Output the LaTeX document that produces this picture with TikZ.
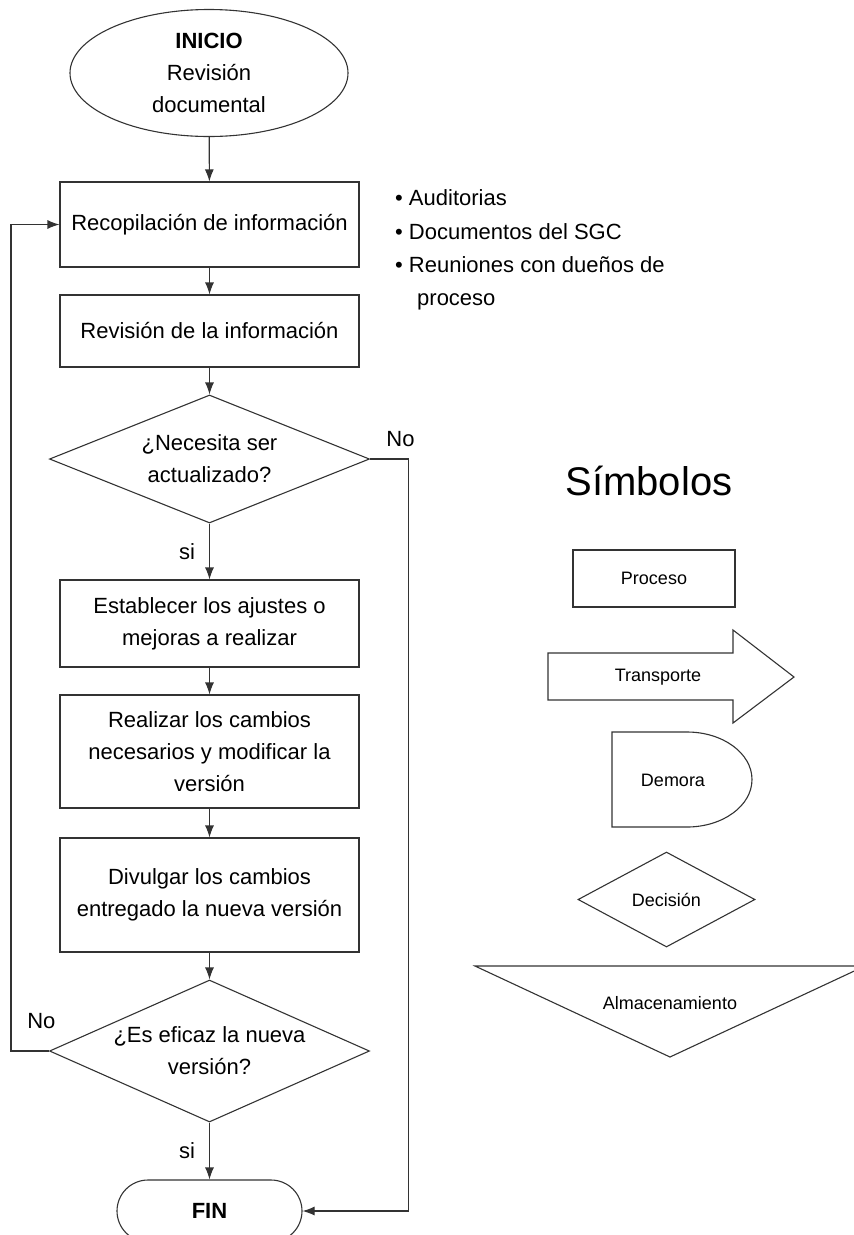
\documentclass[tikz,border=0pt]{standalone}
\usepackage{fontspec}
\setmainfont{Liberation Sans}
\usepackage{tikz}
\usetikzlibrary{shapes.geometric,arrows.meta,positioning}

\tikzset{
  caja/.style={draw=black!80, line width=1.1pt, font=\fontsize{22}{32}\selectfont, align=center, inner sep=0pt},
  proc/.style={caja, rectangle, minimum width=299pt},
  decis/.style={draw=black!80, line width=1.1pt, diamond, inner sep=0pt, minimum width=320pt},
  linea/.style={draw=black!80, line width=1.1pt},
  flecha/.style={linea, -{Latex[length=12pt,width=9pt]}},
  etiq/.style={font=\fontsize{22}{26}\selectfont, inner sep=0pt},
  texto/.style={font=\fontsize{22}{32}\selectfont, align=center, inner sep=0pt},
  simb/.style={draw=black!80, line width=1.1pt, font=\fontsize{18}{22}\selectfont, inner sep=0pt},
}

\begin{document}
\begin{tikzpicture}[x=1pt,y=-1pt]
  \useasboundingbox (0,0) rectangle (854,1235);

  % flujo principal
  \node[caja, ellipse, minimum width=278pt, minimum height=127pt] (inicio) at (209,73)
    {\textbf{INICIO}\\Revisión\\documental};
  \node[proc, minimum height=85pt] (recop) at (209.5,224.5) {Recopilación de información};
  \node[proc, minimum height=72pt] (revis) at (209.5,331) {Revisión de la información};
  \node[decis, minimum height=128pt, label={[texto]center:¿Necesita ser\\actualizado?}] (actual) at (209.5,459) {};
  \node[proc, minimum height=87pt] (ajustes) at (209.5,623.5) {Establecer los ajustes o\\mejoras a realizar};
  \node[proc, minimum height=113pt] (cambios) at (209.5,751.5) {Realizar los cambios\\necesarios y modificar la\\versión};
  \node[proc, minimum height=114pt] (divulgar) at (209.5,895) {Divulgar los cambios\\entregado la nueva versión};
  \node[decis, minimum height=142pt, label={[texto]center:¿Es eficaz la nueva\\versión?}] (eficaz) at (209.5,1051) {};
  \node[caja, rectangle, rounded corners=31pt, minimum width=185pt, minimum height=62pt] (fin) at (209.5,1211)
    {\textbf{FIN}};

  \draw[flecha] (inicio) -- (recop);
  \draw[flecha] (recop) -- (revis);
  \draw[flecha] (revis) -- (actual);
  \draw[flecha] (actual) -- node[etiq, left=14pt] {si} (ajustes);
  \draw[flecha] (ajustes) -- (cambios);
  \draw[flecha] (cambios) -- (divulgar);
  \draw[flecha] (divulgar) -- (eficaz);
  \draw[flecha] (eficaz) -- node[etiq, left=14pt] {si} (fin);
  \draw[flecha] (actual.east) -- node[etiq, above=12pt, pos=0.8] {No} ++(38,0) |- (fin.east);
  \draw[flecha] (eficaz.west) -- node[etiq, above=22pt, pos=0.2] {No} ++(-38,0) |- (recop.west);

  % fuentes de informacion
  \node[etiq, anchor=base west] (fte1) at (395,205) {• Auditorias};
  \node[etiq, anchor=base west] (fte2) at (395,239) {• Documentos del SGC};
  \node[etiq, anchor=base west] (fte3) at (395,272) {• Reuniones con dueños de};
  \node[etiq, anchor=base west] (fte4) at (417,305) {proceso};

  % simbolos
  \node[inner sep=0pt, font=\fontsize{40}{44}\selectfont, anchor=base] (titulo) at (649,495) {Símbolos};
  \node[simb, rectangle, minimum width=162pt, minimum height=57pt] (proceso) at (654,578.5) {Proceso};
  \draw[linea] (548,653) -- (733,653) -- (733,630) -- (794,677) -- (733,723) -- (733,700) -- (548,700) -- cycle;
  \node[simb, draw=none] (transporte) at (658,677) {Transporte};
  \draw[linea] (612,732) -- (687,732) arc[start angle=-90, end angle=90, x radius=65, y radius=47.5] -- (612,827) -- cycle;
  \node[simb, draw=none] (demora) at (673,780) {Demora};
  \node[simb, diamond, minimum width=177pt, minimum height=95pt] (decision) at (666.5,899.5) {Decisión};
  \draw[linea] (475,966) -- (865,966) -- (670,1057) -- cycle;
  \node[simb, draw=none] (almacen) at (670,1003) {Almacenamiento};
\end{tikzpicture}
\end{document}
